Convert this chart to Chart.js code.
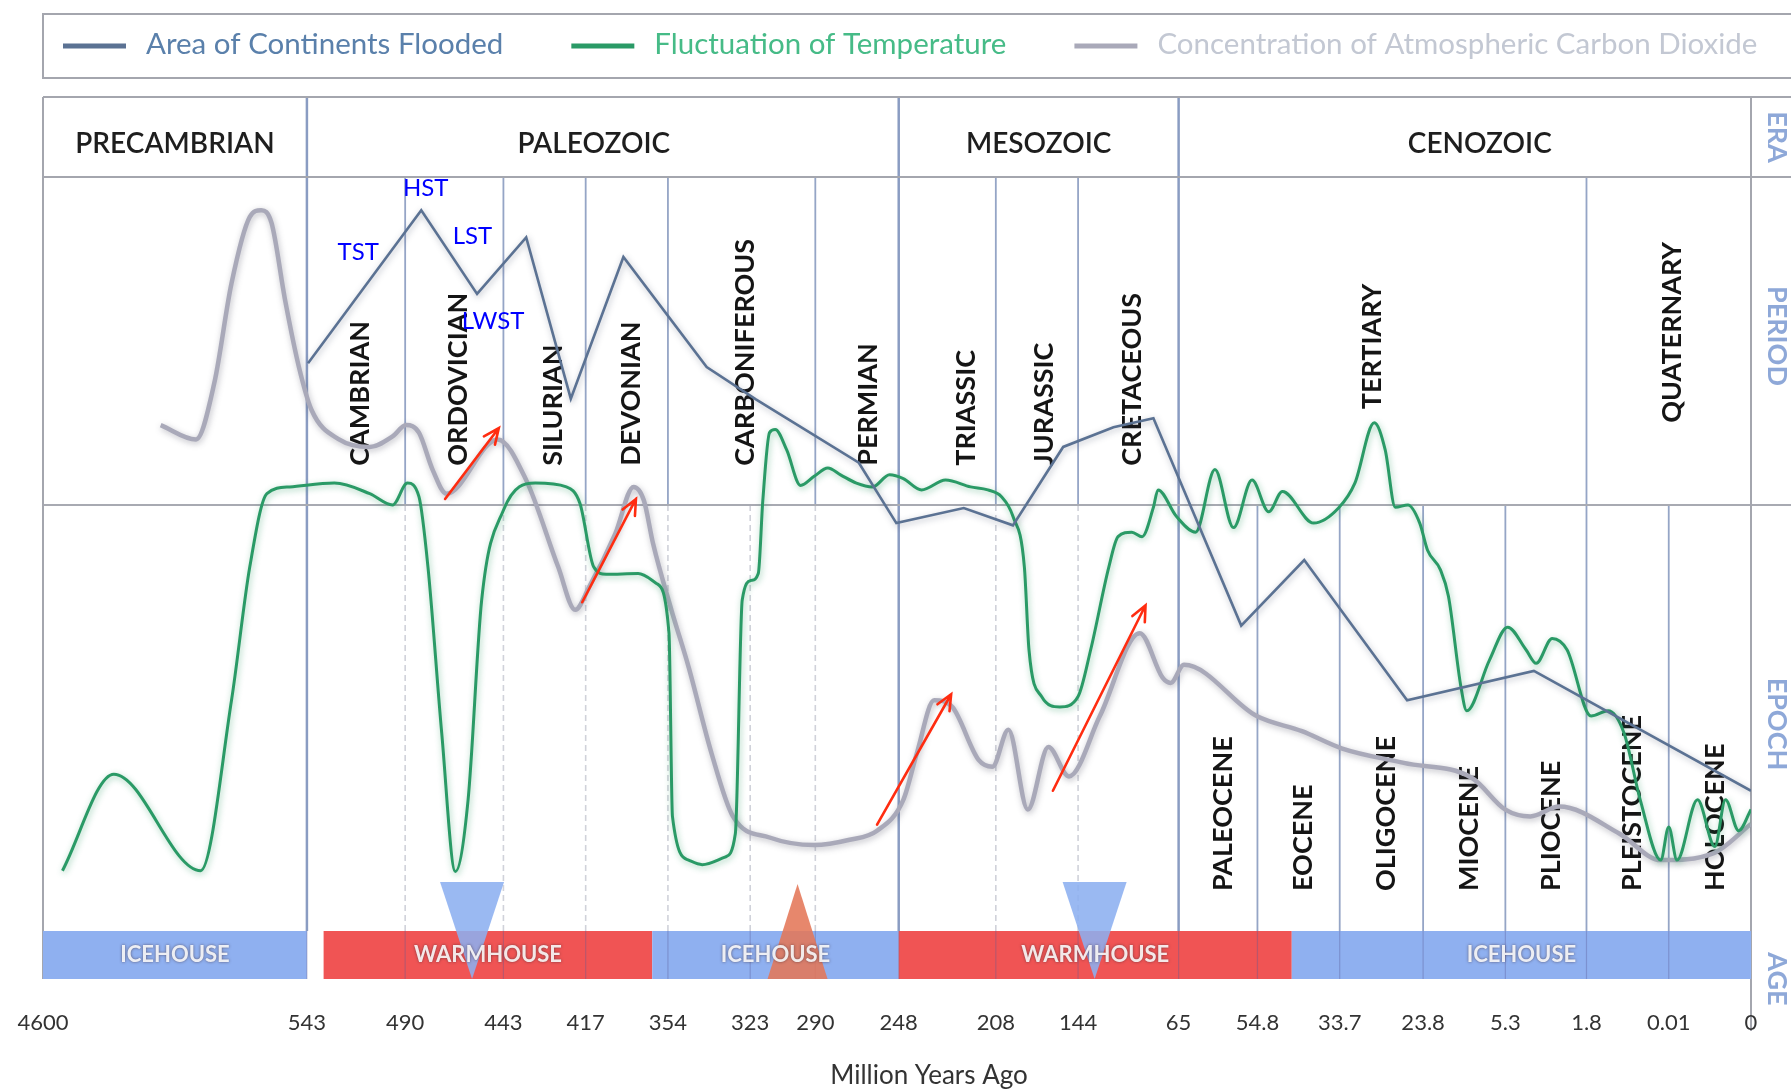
<!DOCTYPE html>
<html lang="en">
<head>
<meta charset="utf-8">
<title>Continental flooding, temperature and CO2 through geologic time</title>
<script src="https://cdn.jsdelivr.net/npm/chart.js@4.4.1/dist/chart.umd.min.js"></script>
<style>
  html, body { margin: 0; padding: 0; background: #ffffff; }
  canvas { display: block; }
</style>
</head>
<body>
<canvas id="geoChart" width="1791" height="1091"></canvas>
<script>
// ---------- data ----------
// boundaries labelled on the time axis (million years ago)
const ageTicks = [4600, 543, 490, 443, 417, 354, 323, 290, 248, 208, 144, 65, 54.8, 33.7, 23.8, 5.3, 1.8, 0.01, 0];

const eraNames = ['PRECAMBRIAN', 'PALEOZOIC', 'MESOZOIC', 'CENOZOIC'];
const eraStart = [4600, 543, 248, 65];
const eraEnd = [543, 248, 65, 0];

const periodNames = ['CAMBRIAN', 'ORDOVICIAN', 'SILURIAN', 'DEVONIAN', 'CARBONIFEROUS', 'PERMIAN',
  'TRIASSIC', 'JURASSIC', 'CRETACEOUS', 'TERTIARY', 'QUATERNARY'];
const periodStart = [543, 490, 443, 417, 354, 290, 248, 208, 144, 65, 1.8];
const periodEnd = [490, 443, 417, 354, 290, 248, 208, 144, 65, 1.8, 0];

const epochNames = ['PALEOCENE', 'EOCENE', 'OLIGOCENE', 'MIOCENE', 'PLIOCENE', 'PLEISTOCENE', 'HOLOCENE'];
const epochStart = [65, 54.8, 33.7, 23.8, 5.3, 1.8, 0.01];
const epochEnd = [54.8, 33.7, 23.8, 5.3, 1.8, 0.01, 0];

const climateNames = ['ICEHOUSE', 'WARMHOUSE', 'ICEHOUSE', 'WARMHOUSE', 'ICEHOUSE'];
const climateStart = [4600, 534, 366, 248, 46];
const climateEnd = [543, 366, 248, 46, 0];

// series: age (Ma) and relative level (0 = bottom, 100 = top of plot)
const floodAge = [542.4, 482.3, 455.6, 435.8, 421.7, 388.1, 339.4, 320.1, 268.1, 249.2, 221.2, 194.7,
  155.6, 116.2, 84.8, 56.9, 42.8, 25.7, 4.07, 0];
const floodLevel = [75.3, 95.6, 84.5, 92.0, 70.6, 89.4, 74.8, 70.5, 62.1, 54.1, 56.1, 53.8,
  64.2, 66.8, 68.0, 40.5, 49.2, 30.6, 34.5, 18.6];

const tempAge = [4301, 3511, 2176, 1702, 1421, 1158, 806, 528.2, 509.1, 496.8, 488.9, 483.4, 479.1, 472.5,
  466.0, 459.9, 453.4, 443, 432.9, 423.1, 418.8, 410.9, 401.3, 376.8, 362.8, 353.6, 352.3, 346.2, 341.1,
  332.5, 328.6, 326.0, 322.4, 318.9, 316.6, 313.2, 310.3, 304.5, 297.5, 290.6, 283.7, 277.3, 269.3, 261.2,
  252.6, 246.1, 238.6, 228.7, 218.4, 211.3, 203.6, 194.7, 185.8, 182.2, 172.4, 158.2, 144, 134.1, 119.8,
  112.6, 101.8, 93.7, 84.8, 81.2, 66.8, 62.8, 60.3, 57.9, 55.5, 51.9, 48.4, 40.4, 34.0, 31.9, 29.6, 28.3,
  27.1, 25.6, 24.2, 22.8, 19.9, 18.1, 15.3, 14.0, 8.9, 5.20, 4.41, 3.97, 3.28, 2.64, 1.70, 1.33, 0.98,
  0.63, 0.184, 0.01, 0.009, 0.0065, 0.0044, 0.0031, 0.0015, 0];
const tempLevel = [8.0, 20.8, 8.0, 30.6, 48.3, 58.0, 58.9, 59.4, 58.0, 56.5, 59.4, 57.6, 48.3, 26.2,
  7.9, 17.4, 43.9, 55.8, 59.4, 58.9, 56.7, 48.3, 47.3, 47.4, 46.1, 39.5, 15.2, 9.4, 8.8,
  9.8, 12.9, 43.9, 46.5, 47.4, 57.1, 66.1, 66.5, 63.8, 59.1, 60.3, 61.4, 60.5, 59.4, 58.9,
  60.5, 60.0, 58.5, 59.8, 58.9, 58.5, 57.6, 55.0, 48.3, 37.3, 31.1, 29.7, 31.1, 37.3, 48.3,
  52.3, 52.9, 52.3, 56.2, 58.5, 55.0, 52.9, 61.2, 53.5, 59.8, 55.6, 58.3, 54.1, 56.1, 59.4, 67.4, 63.8,
  56.2, 56.5, 54.1, 50.5, 47.9, 44.4, 32.4, 29.2, 35.9, 40.3, 37.3, 35.5, 38.8, 37.3, 28.5, 29.2, 26.2,
  17.4, 9.4, 13.8, 9.4, 17.4, 11.2, 17.4, 13.3, 16.1];

const co2Age = [2791, 2247, 1966, 1702, 1421, 1245, 1087, 877, 666, 540.5, 525.7, 509.1, 496.8, 489.5,
  483.4, 476.9, 470.3, 445.7, 435.8, 425.7, 420.3, 414.4, 394.3, 380.3, 372.4, 365.4, 352.7, 346.2, 337.6,
  329.5, 313.2, 290.6, 272.7, 258.9, 246.1, 240.5, 233.4, 225.9, 215.1, 209.4, 198.2, 183.1, 167.1, 151.1,
  126.9, 95.5, 77.6, 71.3, 64.3, 54.9, 43.4, 33.4, 26.1, 12.8, 5.3, 4.22, 2.98, 1.08, 0.184, 0.0046, 0];
const co2Level = [67.1, 65.2, 72.7, 85.9, 94.7, 95.6, 93.9, 83.6, 74.8, 69.1, 65.2, 64.2, 65.6, 67.1,
  66.1, 61.2, 58.0, 65.2, 59.8, 48.3, 42.6, 45.6, 52.7, 58.9, 57.1, 51.4, 42.6, 35.0, 23.6,
  15.2, 12.4, 11.4, 12.1, 13.3, 17.4, 23.6, 30.6, 29.7, 22.7, 21.8, 26.7, 16.1, 24.4, 20.5,
  28.5, 39.5, 33.6, 32.9, 35.3, 28.5, 26.5, 24.2, 22.3, 20.3, 16.1, 15.2, 16.5, 12.9, 9.4, 10.3, 14.2];

// sequence-stratigraphy notes
const seqLabels = ['HST', 'TST', 'LST', 'LWST'];
const seqAge = [480.2, 515.3, 457.8, 447.9];
const seqLevel = [98.5, 90.0, 92.1, 80.9];

// red arrows
const arrowFromAge = [470.9, 418.1, 258.9, 163.6];
const arrowFromLevel = [57.3, 43.6, 14.1, 18.6];
const arrowToAge = [445.2, 378.5, 226.4, 91.0];
const arrowToLevel = [66.7, 57.3, 31.4, 43.2];

// glaciation / greenhouse markers on the age bar
const markerAge = [458, 299, 131];
const markerDir = ['down', 'up', 'down'];

// ---------- layout ----------
// share of the axis width at which each labelled boundary sits
const tickShare = [0, 231, 317, 403, 475, 547, 619, 676, 749, 834, 906, 994, 1063, 1135, 1208, 1280, 1351, 1423, 1495]
  .map(v => v / 1495);
const periodEpochSplit = 56.5;
const periodLabelLevel = [61.7, 61.7, 61.7, 61.7, 61.7, 61.7, 61.7, 61.7, 61.7, 69.2, 67.4];
const periodLabelNudge = [4, 4, 9, 4, 4, 11, 19, 7, 4, -10, 4];
const eraLabelNudge = [0, -9, 0, 15];
const epochLabelLevel = 5.3;
const lineGlow = ['rgba(50,60,90,0.35)', 'rgba(40,150,95,0.45)', 'rgba(70,70,90,0.35)'];
const legendTextColor = ['#5a80ab', '#46bb87', '#c3c8d3'];
const BLUE = '#8fb0f0', RED = '#f05454';

function ageToShare(age) {
  for (let i = 0; i < ageTicks.length - 1; i++) {
    const a = ageTicks[i], b = ageTicks[i + 1];
    if (age <= a && age >= b) {
      return tickShare[i] + (a - age) / (a - b) * (tickShare[i + 1] - tickShare[i]);
    }
  }
  return age > ageTicks[0] ? 0 : 1;
}

function shareToAge(s) {
  for (let i = 0; i < tickShare.length - 1; i++) {
    if (s >= tickShare[i] && s <= tickShare[i + 1]) {
      const t = (s - tickShare[i]) / (tickShare[i + 1] - tickShare[i]);
      return ageTicks[i] - t * (ageTicks[i] - ageTicks[i + 1]);
    }
  }
  return s < 0 ? ageTicks[0] : 0;
}

// piecewise time scale: the chart is not drawn to scale, each labelled boundary has its own slot
class GeoTimeScale extends Chart.LinearScale {
  static id = 'geotime';
  static defaults = {};
  getPixelForValue(value) {
    if (value === null || value === undefined || isNaN(value)) return NaN;
    return this.left + ageToShare(value) * (this.right - this.left);
  }
  getValueForPixel(pixel) {
    return shareToAge((pixel - this.left) / (this.right - this.left));
  }
}
Chart.register(GeoTimeScale);

function toPoints(ages, levels) {
  return ages.map((a, i) => ({ x: a, y: levels[i] }));
}

function vline(ctx, x, y0, y1, color, width, dash) {
  ctx.save();
  ctx.strokeStyle = color;
  ctx.lineWidth = width;
  ctx.setLineDash(dash || []);
  ctx.beginPath();
  ctx.moveTo(x, y0);
  ctx.lineTo(x, y1);
  ctx.stroke();
  ctx.restore();
}

function hline(ctx, y, x0, x1, color, width) {
  ctx.save();
  ctx.strokeStyle = color;
  ctx.lineWidth = width;
  ctx.beginPath();
  ctx.moveTo(x0, y);
  ctx.lineTo(x1, y);
  ctx.stroke();
  ctx.restore();
}

function rotatedText(ctx, text, x, y, angle, align) {
  ctx.save();
  ctx.translate(x, y);
  ctx.rotate(angle);
  ctx.textAlign = align;
  ctx.fillText(text, 0, 0);
  ctx.restore();
}

const geoFrame = {
  id: 'geoFrame',
  beforeDraw(chart) {
    const { ctx, chartArea: ca, scales: { x, y } } = chart;
    const W = chart.width;
    const eraTop = ca.top - 80;
    const barBottom = ca.bottom + 48;
    const midY = y.getPixelForValue(periodEpochSplit);
    const isEraLine = a => eraStart.indexOf(a) > 0;

    ctx.save();
    ctx.fillStyle = '#ffffff';
    ctx.fillRect(0, 0, W, chart.height);

    // legend frame
    ctx.strokeStyle = '#a4a6ae';
    ctx.lineWidth = 2;
    ctx.strokeRect(ca.left, 14, W, 64);

    // era row
    eraStart.forEach((a, i) => {
      if (i > 0) vline(ctx, x.getPixelForValue(a), eraTop, ca.top, '#8a9cc2', 2.5);
    });
    ctx.fillStyle = '#1e1e1e';
    ctx.font = '600 28px Lato';
    ctx.textAlign = 'center';
    ctx.textBaseline = 'middle';
    eraNames.forEach((n, i) => {
      const cx = (x.getPixelForValue(eraStart[i]) + x.getPixelForValue(eraEnd[i])) / 2 + eraLabelNudge[i];
      ctx.fillText(n, cx, (eraTop + ca.top) / 2 + 7);
    });

    // period boundaries (upper band)
    periodStart.forEach(a => {
      const px = x.getPixelForValue(a);
      vline(ctx, px, ca.top, midY, isEraLine(a) ? '#8a9cc2' : '#95a5c6', isEraLine(a) ? 2.5 : 1.8);
    });
    // epoch / stage boundaries (lower band)
    ageTicks.slice(1, -1).forEach(a => {
      const px = x.getPixelForValue(a);
      if (isEraLine(a)) vline(ctx, px, midY, ca.bottom, '#8a9cc2', 2.5);
      else if (a < 65) vline(ctx, px, midY, ca.bottom, '#95a5c6', 1.8);
      else vline(ctx, px, midY, ca.bottom, '#d0d2da', 1.6, [6, 4]);
    });

    // frame
    hline(ctx, eraTop, ca.left, W, '#a4a6ae', 2);
    hline(ctx, ca.top, ca.left, W, '#a4a6ae', 2);
    hline(ctx, midY, ca.left, W, '#a8aab2', 2);
    vline(ctx, ca.left, eraTop, barBottom, '#a4a6ae', 2);
    vline(ctx, ca.right, eraTop, barBottom + 52, '#a4a6ae', 2);

    // row names on the right edge
    ctx.fillStyle = '#8ea8d8';
    ctx.font = 'bold 27px Lato';
    ctx.textBaseline = 'alphabetic';
    const side = [['ERA', (eraTop + ca.top) / 2], ['PERIOD', (ca.top + midY) / 2 - 5],
      ['EPOCH', (midY + ca.bottom) / 2 + 6], ['AGE', barBottom]];
    side.forEach(([t, cy]) => rotatedText(ctx, t, ca.right + 17, cy, Math.PI / 2, 'center'));

    // axis caption (the picture has it a little right of centre)
    ctx.fillStyle = '#333333';
    ctx.font = '26px Lato';
    ctx.textAlign = 'center';
    ctx.textBaseline = 'middle';
    ctx.fillText('Million Years Ago', (ca.left + ca.right) / 2 + 32, chart.height - 15);
    ctx.restore();
  },
  beforeDatasetsDraw(chart) {
    const { ctx, scales: { x, y } } = chart;
    ctx.save();
    ctx.fillStyle = '#151515';
    ctx.font = 'bold 27px Lato';
    ctx.textBaseline = 'middle';
    periodNames.forEach((n, i) => {
      const cx = (x.getPixelForValue(periodStart[i]) + x.getPixelForValue(periodEnd[i])) / 2 + periodLabelNudge[i];
      rotatedText(ctx, n, cx, y.getPixelForValue(periodLabelLevel[i]), -Math.PI / 2, 'left');
    });
    epochNames.forEach((n, i) => {
      const cx = (x.getPixelForValue(epochStart[i]) + x.getPixelForValue(epochEnd[i])) / 2 + 5;
      rotatedText(ctx, n, cx, y.getPixelForValue(epochLabelLevel), -Math.PI / 2, 'left');
    });
    ctx.restore();
  },
  afterDatasetsDraw(chart) {
    const { ctx, chartArea: ca, scales: { x, y } } = chart;
    const barTop = ca.bottom, barBottom = ca.bottom + 48;
    ctx.save();

    // climate bar
    climateNames.forEach((n, i) => {
      const x0 = x.getPixelForValue(climateStart[i]);
      const x1 = x.getPixelForValue(climateEnd[i]);
      ctx.fillStyle = n === 'ICEHOUSE' ? BLUE : RED;
      ctx.fillRect(x0, barTop, x1 - x0, barBottom - barTop);
    });
    ageTicks.slice(1, -1).forEach(a => vline(ctx, x.getPixelForValue(a), barTop, barBottom, 'rgba(90,90,150,0.35)', 1.2));

    // markers
    markerAge.forEach((a, i) => {
      const cx = x.getPixelForValue(a);
      ctx.beginPath();
      if (markerDir[i] === 'down') {
        ctx.fillStyle = 'rgba(140,175,240,0.88)';
        ctx.moveTo(cx - 32, barTop - 49);
        ctx.lineTo(cx + 32, barTop - 49);
        ctx.lineTo(cx, barBottom);
      } else {
        ctx.fillStyle = 'rgba(228,118,88,0.88)';
        ctx.moveTo(cx, barTop - 47);
        ctx.lineTo(cx + 30, barBottom);
        ctx.lineTo(cx - 30, barBottom);
      }
      ctx.closePath();
      ctx.fill();
    });

    ctx.font = 'bold 22px Lato';
    ctx.textAlign = 'center';
    ctx.textBaseline = 'middle';
    ctx.shadowColor = 'rgba(60,40,50,0.75)';
    ctx.shadowBlur = 3;
    ctx.fillStyle = 'rgba(255,255,255,0.88)';
    climateNames.forEach((n, i) => {
      const cx = (x.getPixelForValue(climateStart[i]) + x.getPixelForValue(climateEnd[i])) / 2;
      ctx.fillText(n, cx, (barTop + barBottom) / 2);
    });
    ctx.shadowColor = 'transparent';
    ctx.shadowBlur = 0;

    // arrows
    ctx.strokeStyle = '#ff2c10';
    ctx.lineWidth = 2.6;
    ctx.lineCap = 'round';
    arrowFromAge.forEach((a, i) => {
      const x1 = x.getPixelForValue(a), y1 = y.getPixelForValue(arrowFromLevel[i]);
      const x2 = x.getPixelForValue(arrowToAge[i]), y2 = y.getPixelForValue(arrowToLevel[i]);
      const ang = Math.atan2(y2 - y1, x2 - x1);
      ctx.beginPath();
      ctx.moveTo(x1, y1);
      ctx.lineTo(x2, y2);
      ctx.moveTo(x2 - 17 * Math.cos(ang - 0.42), y2 - 17 * Math.sin(ang - 0.42));
      ctx.lineTo(x2, y2);
      ctx.lineTo(x2 - 17 * Math.cos(ang + 0.42), y2 - 17 * Math.sin(ang + 0.42));
      ctx.stroke();
    });

    // sequence notes
    ctx.fillStyle = '#0000ff';
    ctx.font = '24px Lato';
    seqLabels.forEach((t, i) => {
      ctx.fillText(t, x.getPixelForValue(seqAge[i]), y.getPixelForValue(seqLevel[i]));
    });
    ctx.restore();
  },
  afterDraw(chart) {
    // legend row
    const ctx = chart.ctx;
    ctx.save();
    ctx.font = '29.5px Lato';
    ctx.textBaseline = 'middle';
    ctx.textAlign = 'left';
    let lx = chart.chartArea.left + 20;
    const ly = 44;
    chart.data.datasets.forEach((ds, i) => {
      ctx.strokeStyle = ds.borderColor;
      ctx.lineWidth = 5;
      ctx.beginPath();
      ctx.moveTo(lx, ly + 2);
      ctx.lineTo(lx + 63, ly + 2);
      ctx.stroke();
      lx += 83;
      ctx.fillStyle = legendTextColor[i];
      ctx.fillText(ds.label, lx, ly);
      lx += ctx.measureText(ds.label).width + 68;
    });
    ctx.restore();
  }
};

const lineGlowPlugin = {
  id: 'lineGlow',
  beforeDatasetDraw(chart, args) {
    const ctx = chart.ctx;
    ctx.save();
    ctx.shadowColor = lineGlow[args.index];
    ctx.shadowBlur = 6;
    ctx.shadowOffsetX = 1;
    ctx.shadowOffsetY = 2;
  },
  afterDatasetDraw(chart) {
    chart.ctx.restore();
  }
};

const chart = new Chart(document.getElementById('geoChart'), {
  type: 'line',
  data: {
    datasets: [
      {
        label: 'Area of Continents Flooded',
        data: toPoints(floodAge, floodLevel),
        borderColor: '#5b7293',
        borderWidth: 2.6,
        tension: 0
      },
      {
        label: 'Fluctuation of Temperature',
        data: toPoints(tempAge, tempLevel),
        borderColor: '#2a9a66',
        borderWidth: 3,
        cubicInterpolationMode: 'monotone'
      },
      {
        label: 'Concentration of Atmospheric Carbon Dioxide',
        data: toPoints(co2Age, co2Level),
        borderColor: '#a9a9b9',
        borderWidth: 4.5,
        cubicInterpolationMode: 'monotone'
      }
    ]
  },
  options: {
    responsive: false,
    animation: false,
    events: [],
    layout: { padding: { left: 43, right: 40, top: 177, bottom: 0 } },
    elements: { point: { radius: 0 } },
    plugins: {
      legend: { display: false },
      tooltip: { enabled: false }
    },
    scales: {
      x: {
        type: 'geotime',
        min: 0,
        max: 4600,
        afterBuildTicks: s => { s.ticks = ageTicks.map(v => ({ value: v })); },
        afterFit: s => { s.height = 160; s.paddingLeft = 0; s.paddingRight = 0; },
        grid: { display: false },
        border: { display: false },
        ticks: {
          autoSkip: false,
          maxRotation: 0,
          padding: 71,
          color: '#333333',
          font: { family: 'Lato', size: 22 },
          callback: v => String(v)
        },
        title: { display: false }
      },
      y: { min: 0, max: 100, display: false }
    }
  },
  plugins: [geoFrame, lineGlowPlugin]
});
</script>
</body>
</html>
